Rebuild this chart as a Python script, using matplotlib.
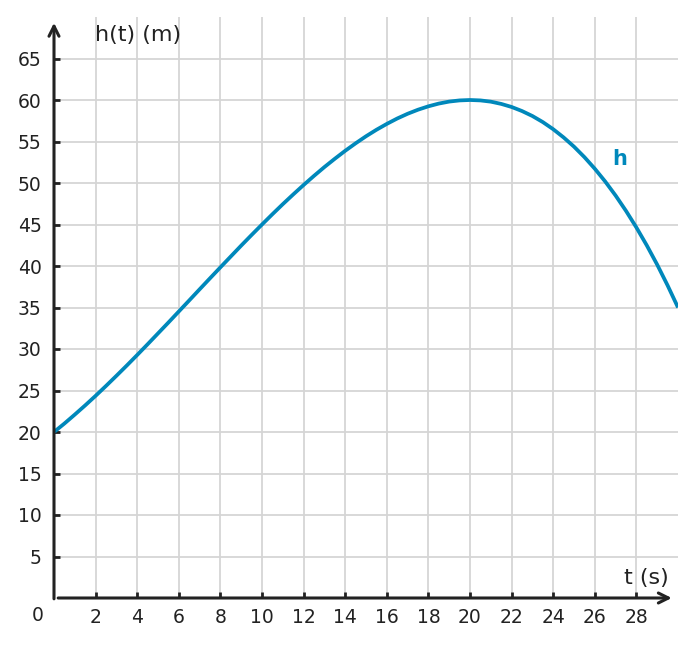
import matplotlib.pyplot as plt

# valores (cada 0.5 s)
t = [0, 0.5, 1, 1.5, 2, 2.5, 3, 3.5, 4, 4.5, 5, 5.5, 6, 6.5, 7, 7.5,
     8, 8.5, 9, 9.5, 10, 10.5, 11, 11.5, 12, 12.5, 13, 13.5, 14, 14.5,
     15, 15.5, 16, 16.5, 17, 17.5, 18, 18.5, 19, 19.5, 20, 20.5, 21, 21.5,
     22, 22.5, 23, 23.5, 24, 24.5, 25, 25.5, 26, 26.5, 27, 27.5, 28, 28.5,
     29, 29.5, 30]
h = [20.00, 21.02, 22.10, 23.21, 24.36, 25.55, 26.77, 28.01, 29.28, 30.57,
     31.88, 33.19, 34.52, 35.85, 37.19, 38.52, 39.84, 41.15, 42.46, 43.74,
     45.00, 46.24, 47.45, 48.62, 49.76, 50.86, 51.92, 52.92, 53.88, 54.78,
     55.63, 56.41, 57.12, 57.77, 58.34, 58.83, 59.24, 59.57, 59.81, 59.95,
     60.00, 59.95, 59.80, 59.53, 59.16, 58.67, 58.07, 57.34, 56.48, 55.49,
     54.38, 53.12, 51.72, 50.18, 48.49, 46.64, 44.64, 42.48, 40.16, 37.66,
     35.00]
x_ticks = list(range(2, 30, 2))
y_ticks = list(range(5, 70, 5))

azul = '#0088bb'
oscuro = '#222222'

fig = plt.figure(figsize=(6.95, 6.47), dpi=100)
ax = fig.add_axes([54 / 695, 49 / 647, 624 / 695, 581 / 647])

ax.plot(t, h, color=azul, linewidth=2.7, zorder=3,
        solid_joinstyle='round', solid_capstyle='butt')

ax.set_xlim(0, 30)
ax.set_ylim(0, 70)
ax.set_xticks(x_ticks)
ax.set_yticks(y_ticks)
ax.grid(True, color='#d5d5d5', linewidth=1.3)
ax.set_axisbelow(True)
for s in ax.spines.values():
    s.set_visible(False)
ax.tick_params(direction='in', length=4, width=2, color=oscuro,
               labelsize=13.5, labelcolor=oscuro, pad=9)
ax.tick_params(axis='x', pad=7.5)

# ejes con flecha
ax.annotate('', xy=(0, 69.3), xytext=(0, -0.1),
            arrowprops=dict(arrowstyle='->', lw=2.2, color=oscuro,
                            mutation_scale=18, shrinkA=0, shrinkB=0),
            annotation_clip=False)
ax.annotate('', xy=(29.7, 0), xytext=(0.2, 0),
            arrowprops=dict(arrowstyle='->', lw=2.2, color=oscuro,
                            mutation_scale=18, shrinkA=0, shrinkB=0),
            annotation_clip=False)

ax.text(-0.8, -2.1, '0', fontsize=13.5, color=oscuro, ha='center', va='center')
ax.text(1.95, 67.8, 'h(t) (m)', fontsize=16, color=oscuro, ha='left', va='center')
ax.text(29.55, 2.4, 't (s)', fontsize=16, color=oscuro, ha='right', va='center')
ax.text(27.2, 52.9, 'h', fontsize=15, color=azul, fontweight='bold',
        ha='center', va='center')

plt.savefig('out.png', dpi=100)
